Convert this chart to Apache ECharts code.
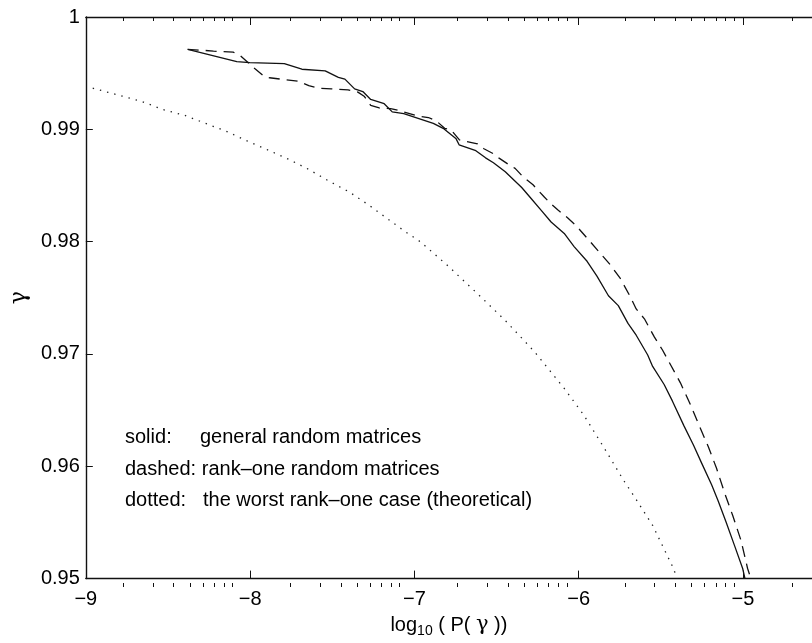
<!DOCTYPE html>
<html>
<head>
<meta charset="utf-8">
<script src="https://cdn.jsdelivr.net/npm/echarts@6/dist/echarts.min.js"></script>
<style>
  html, body { margin: 0; padding: 0; background: #fff; }
  #chart { width: 812px; height: 643px; }
</style>
</head>
<body>
<div id="chart"></div>
<script>
// General random matrices (solid curve)
const solidX = [-8.380, -8.081, -8.002, -7.792, -7.685, -7.543, -7.463, -7.423, -7.364, -7.314,
  -7.266, -7.184, -7.135, -7.065, -7.005, -6.885, -6.825, -6.746, -6.728, -6.626,
  -6.567, -6.519, -6.447, -6.347, -6.287, -6.228, -6.168, -6.088, -6.028, -5.949,
  -5.889, -5.819, -5.759, -5.700, -5.650, -5.580, -5.550, -5.480, -5.430, -5.360,
  -5.301, -5.251, -5.191, -5.151, -5.102, -5.052, -5.002, -4.988];
const solidY = [0.99711, 0.99603, 0.99594, 0.99585, 0.99535, 0.99520, 0.99462, 0.99447, 0.99360, 0.99336,
  0.99266, 0.99228, 0.99155, 0.99140, 0.99111, 0.99053, 0.99009, 0.98915, 0.98862, 0.98810,
  0.98746, 0.98702, 0.98623, 0.98482, 0.98380, 0.98278, 0.98175, 0.98073, 0.97956, 0.97825,
  0.97693, 0.97518, 0.97430, 0.97272, 0.97167, 0.96991, 0.96889, 0.96728, 0.96582, 0.96362,
  0.96187, 0.96026, 0.95836, 0.95690, 0.95500, 0.95296, 0.95090, 0.95000];

// Rank-one random matrices (dashed curve)
const dashedX = [-8.380, -8.290, -8.223, -8.103, -8.061, -7.972, -7.912, -7.882, -7.782, -7.703,
  -7.643, -7.583, -7.505, -7.404, -7.344, -7.304, -7.266, -7.214, -7.145, -7.085,
  -6.985, -6.915, -6.865, -6.816, -6.776, -6.726, -6.686, -6.616, -6.577, -6.517,
  -6.487, -6.427, -6.387, -6.338, -6.278, -6.208, -6.168, -6.128, -6.068, -6.018,
  -5.939, -5.869, -5.809, -5.749, -5.689, -5.650, -5.600, -5.540, -5.490, -5.441,
  -5.381, -5.321, -5.271, -5.211, -5.161, -5.112, -5.062, -5.012, -4.972, -4.952];
const dashedY = [0.99711, 0.99704, 0.99696, 0.99687, 0.99658, 0.99541, 0.99468, 0.99459, 0.99441, 0.99427,
  0.99389, 0.99366, 0.99360, 0.99351, 0.99331, 0.99292, 0.99213, 0.99190, 0.99184, 0.99164,
  0.99120, 0.99105, 0.99073, 0.99009, 0.98994, 0.98906, 0.98892, 0.98871, 0.98827, 0.98781,
  0.98746, 0.98687, 0.98652, 0.98576, 0.98506, 0.98395, 0.98336, 0.98283, 0.98213, 0.98146,
  0.98015, 0.97897, 0.97796, 0.97678, 0.97518, 0.97401, 0.97313, 0.97152, 0.97035, 0.96904,
  0.96743, 0.96553, 0.96377, 0.96173, 0.95982, 0.95763, 0.95559, 0.95339, 0.95090, 0.95000];

// Worst rank-one case, theoretical (dotted curve)
const dottedX = [-8.958, -8.779, -8.659, -8.529, -8.400, -8.271, -8.141, -8.012, -7.882, -7.762,
  -7.643, -7.523, -7.393, -7.274, -7.164, -7.055, -6.965, -6.806, -6.607, -6.447,
  -6.268, -6.088, -5.969, -5.839, -5.729, -5.650, -5.550, -5.425, -5.401];
const dottedY = [0.99366, 0.99296, 0.99248, 0.99175, 0.99125, 0.99053, 0.98980, 0.98892, 0.98810, 0.98731,
  0.98643, 0.98541, 0.98439, 0.98322, 0.98204, 0.98088, 0.98000, 0.97798, 0.97524, 0.97298,
  0.97018, 0.96693, 0.96456, 0.96149, 0.95880, 0.95704, 0.95474, 0.95096, 0.95000];

// Axis ticks
const xMajorTicks = [-9, -8, -7, -6, -5];
const xDecadeSteps = [2, 3, 4, 5, 6, 7, 8, 9];
const yTicks = [0.95, 0.96, 0.97, 0.98, 0.99, 1];

const X_MIN = -9, X_MAX = -4.58;
const xMinorTicks = [];
xMajorTicks.forEach(d => xDecadeSteps.forEach(k => {
  const v = d + Math.log10(k);
  if (v < X_MAX) xMinorTicks.push(v);
}));

const pairs = (xs, ys) => xs.map((x, i) => [x, ys[i]]);

const ink = '#111';
const fam = '"Liberation Sans", Arial, Helvetica, sans-serif';

function tickAxis(grid, pos, ticks, len, withLine) {
  return {
    gridIndex: grid, type: 'value', position: pos, min: X_MIN, max: X_MAX,
    axisLine: { show: withLine, onZero: false, lineStyle: { color: ink, width: 1.4 } },
    axisTick: { show: true, inside: true, length: len, customValues: ticks,
      lineStyle: { color: ink, width: 1 } },
    axisLabel: { show: false },
    splitLine: { show: false }
  };
}

const bottomAxis = tickAxis(0, 'bottom', xMajorTicks, 8, true);
bottomAxis.axisLabel = {
  show: true, customValues: xMajorTicks, margin: 11,
  color: '#000', fontSize: 20, fontFamily: fam,
  formatter: v => String(v).replace('-', '\u2212')
};
bottomAxis.name = '{t|log}{s|10}{t| ( P( }{g|\u03b3}{t| ))}';
bottomAxis.nameLocation = 'middle';
bottomAxis.nameGap = 33;
bottomAxis.nameTextStyle = {
  rich: {
    t: { fontSize: 20, fontFamily: fam, color: '#000' },
    s: { fontSize: 14, fontFamily: fam, color: '#000', padding: [12, 0, 0, 0] },
    g: { fontSize: 21, fontFamily: '"DejaVu Serif", serif', color: '#000' }
  }
};

const chart = echarts.init(document.getElementById('chart'), null, { renderer: 'canvas' });
chart.setOption({
  animation: false,
  backgroundColor: '#fff',
  grid: [
    { left: 73, top: 17, right: 0, bottom: 56 },
    { left: 73, top: 17, right: 0, bottom: 56 }
  ],
  xAxis: [
    bottomAxis,
    tickAxis(0, 'top', xMajorTicks, 8, true),
    tickAxis(1, 'bottom', xMinorTicks, 4, false),
    tickAxis(1, 'top', xMinorTicks, 4, false)
  ],
  yAxis: [
    {
      gridIndex: 0, type: 'value', min: 0.95, max: 1, interval: 0.01,
      axisLine: { show: true, onZero: false, lineStyle: { color: ink, width: 1.4 } },
      axisTick: { show: true, inside: true, length: 7, lineStyle: { color: ink, width: 1 } },
      axisLabel: { customValues: yTicks, margin: 6, color: '#000', fontSize: 20, fontFamily: fam,
        formatter: v => String(+v.toFixed(2)) },
      splitLine: { show: false },
      name: '\u03b3', nameLocation: 'middle', nameRotate: 90, nameGap: 44,
      nameTextStyle: { fontSize: 22, fontFamily: '"DejaVu Serif", serif', color: '#000' }
    },
    { gridIndex: 1, type: 'value', min: 0.95, max: 1, show: false }
  ],
  graphic: [
    { type: 'text', x: 125, y: 437, style: { text: 'solid:', fontSize: 20, fontFamily: fam, fill: '#000', verticalAlign: 'middle' } },
    { type: 'text', x: 200, y: 437, style: { text: 'general random matrices', fontSize: 20, fontFamily: fam, fill: '#000', verticalAlign: 'middle' } },
    { type: 'text', x: 125, y: 469, style: { text: 'dashed: rank\u2013one random matrices', fontSize: 20, fontFamily: fam, fill: '#000', verticalAlign: 'middle' } },
    { type: 'text', x: 125, y: 500, style: { text: 'dotted:', fontSize: 20, fontFamily: fam, fill: '#000', verticalAlign: 'middle' } },
    { type: 'text', x: 203, y: 500, style: { text: 'the worst rank\u2013one case (theoretical)', fontSize: 20, fontFamily: fam, fill: '#000', verticalAlign: 'middle' } }
  ],
  series: [
    {
      name: 'solid', type: 'line', xAxisIndex: 0, yAxisIndex: 0,
      data: pairs(solidX, solidY), showSymbol: false, symbol: 'none',
      lineStyle: { color: '#111', width: 1.3, type: 'solid' }
    },
    {
      name: 'dashed', type: 'line', xAxisIndex: 0, yAxisIndex: 0,
      data: pairs(dashedX, dashedY), showSymbol: false, symbol: 'none',
      lineStyle: { color: '#111', width: 1.3, type: [11, 7] }
    },
    {
      name: 'dotted', type: 'line', xAxisIndex: 0, yAxisIndex: 0,
      data: pairs(dottedX, dottedY), showSymbol: false, symbol: 'none',
      lineStyle: { color: '#222', width: 1.3, type: [1.4, 6] }
    }
  ]
});
</script>
</body>
</html>
